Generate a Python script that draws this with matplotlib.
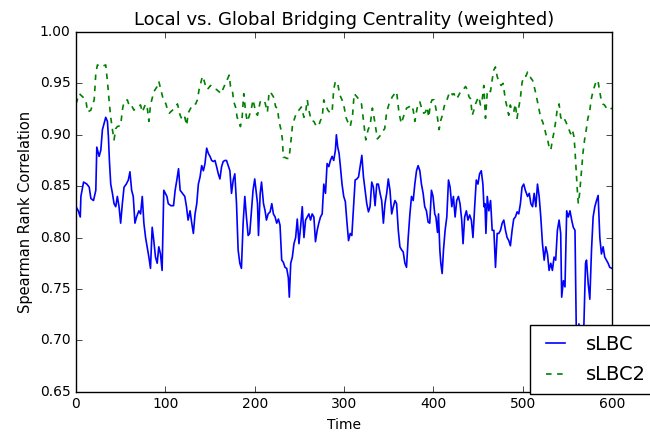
import matplotlib
matplotlib.use("Agg")
import matplotlib.pyplot as plt

# ---- data ----
blue_t = [0, 2.6, 4.8, 5.5, 8.5, 12.2, 14.8, 16.7, 19.6, 22.2, 23.3, 25.9, 27.8, 29.6, 31.5, 33.3, 35.2,
          36.3, 37.4, 38.9, 40.8, 42.6, 44.5, 46.3, 48.2, 50.0, 51.9, 53.8, 56.3, 58.6, 60.4, 62.3, 64.1,
          66.0, 67.8, 70.4, 72.3, 74.2, 76.0, 77.9, 79.7, 81.6, 83.4, 85.3, 87.1, 89.0, 90.9, 92.7, 94.6,
          96.4, 98.3, 100.0, 101.8, 103.3, 106.2, 109.2, 111.0, 112.9, 114.8, 116.6, 119.2, 121.8, 123.7,
          125.5, 127.7, 129.6, 131.4, 133.3, 135.2, 137.0, 138.9, 140.7, 142.6, 144.4, 146.3, 148.1, 150.0,
          151.9, 153.7, 155.6, 157.4, 159.3, 161.1, 163.0, 164.8, 166.7, 168.5, 170.4, 172.3, 174.1, 176.0,
          177.8, 179.7, 181.5, 183.4, 185.2, 187.1, 189.0, 190.8, 192.7, 194.5, 196.4, 198.2, 200.1, 201.5,
          203.2, 204.3, 206.2, 207.7, 209.9, 211.7, 213.2, 215.1, 217.3, 219.2, 221.0, 222.9, 224.7, 226.6,
          228.4, 230.3, 232.1, 234.0, 235.9, 237.7, 238.8, 240.4, 242.2, 244.0, 245.9, 247.7, 249.6, 251.4,
          253.3, 255.2, 257.0, 258.9, 260.7, 262.6, 264.4, 266.3, 268.1, 270.0, 271.8, 273.7, 275.6, 277.4,
          279.3, 281.1, 283.0, 284.8, 286.7, 288.5, 290.4, 291.5, 293.0, 294.5, 296.0, 297.8, 299.7, 301.5,
          303.4, 305.1, 307.0, 308.8, 310.7, 312.5, 314.4, 316.3, 318.1, 320.0, 321.8, 323.7, 325.5, 327.4,
          329.2, 331.1, 332.9, 334.8, 336.7, 338.5, 340.4, 342.2, 344.1, 345.9, 347.8, 349.6, 351.5, 353.4,
          355.2, 357.1, 358.9, 360.8, 362.6, 364.5, 366.3, 368.2, 370.0, 371.9, 373.8, 375.6, 377.5, 379.3,
          381.2, 383.0, 384.9, 386.7, 388.6, 390.4, 392.3, 394.2, 396.0, 397.9, 399.7, 401.6, 402.9, 404.7,
          405.8, 407.3, 408.4, 409.9, 411.4, 413.2, 415.1, 417.0, 418.8, 420.7, 422.5, 424.4, 426.2, 428.1,
          429.9, 431.8, 433.3, 435.1, 437.0, 438.8, 440.7, 442.6, 444.4, 446.3, 448.1, 450.0, 451.8, 453.7,
          455.5, 456.7, 457.8, 458.9, 460.4, 462.2, 464.1, 465.9, 467.8, 469.6, 471.5, 473.3, 475.2, 477.1,
          478.9, 480.8, 482.6, 484.5, 486.3, 488.2, 490.0, 491.9, 493.8, 495.6, 497.5, 499.3, 501.2, 503.0,
          505.5, 507.4, 509.2, 511.1, 512.9, 514.8, 516.6, 518.5, 520.3, 522.2, 524.1, 525.9, 527.8, 529.6,
          531.5, 533.3, 535.2, 537.0, 538.9, 540.8, 542.6, 543.7, 545.6, 547.4, 549.3, 551.1, 553.0, 554.9,
          556.7, 558.6, 560.0, 561.1, 563.0, 564.8, 566.7, 568.5, 570.4, 571.5, 573.4, 575.2, 577.1, 578.9,
          580.8, 582.7, 584.5, 586.4, 588.2, 590.1, 591.9, 593.8, 595.7, 597.5, 600.0]
sLBC = [0.830, 0.826, 0.820, 0.840, 0.854, 0.852, 0.849, 0.838, 0.836, 0.846, 0.888, 0.879, 0.885, 0.905,
        0.911, 0.917, 0.913, 0.898, 0.875, 0.852, 0.843, 0.833, 0.830, 0.840, 0.830, 0.814, 0.833, 0.849,
        0.852, 0.856, 0.864, 0.846, 0.840, 0.814, 0.820, 0.826, 0.823, 0.840, 0.814, 0.800, 0.791, 0.781,
        0.770, 0.810, 0.797, 0.781, 0.775, 0.791, 0.784, 0.768, 0.846, 0.843, 0.840, 0.833, 0.831, 0.831,
        0.846, 0.856, 0.867, 0.846, 0.843, 0.840, 0.830, 0.817, 0.826, 0.814, 0.804, 0.823, 0.833, 0.852,
        0.859, 0.870, 0.865, 0.872, 0.887, 0.882, 0.879, 0.875, 0.874, 0.875, 0.869, 0.862, 0.857, 0.869,
        0.874, 0.875, 0.875, 0.870, 0.865, 0.843, 0.856, 0.862, 0.833, 0.788, 0.775, 0.770, 0.814, 0.840,
        0.820, 0.802, 0.804, 0.826, 0.846, 0.857, 0.846, 0.833, 0.802, 0.843, 0.854, 0.833, 0.826, 0.817,
        0.823, 0.825, 0.833, 0.823, 0.820, 0.814, 0.818, 0.812, 0.778, 0.776, 0.771, 0.770, 0.761, 0.742,
        0.775, 0.781, 0.794, 0.800, 0.818, 0.794, 0.810, 0.830, 0.800, 0.817, 0.820, 0.823, 0.817, 0.823,
        0.820, 0.796, 0.807, 0.814, 0.820, 0.823, 0.852, 0.843, 0.872, 0.869, 0.875, 0.879, 0.875, 0.885,
        0.900, 0.888, 0.882, 0.869, 0.852, 0.840, 0.835, 0.814, 0.797, 0.804, 0.802, 0.830, 0.856, 0.857,
        0.859, 0.869, 0.880, 0.859, 0.846, 0.833, 0.825, 0.830, 0.854, 0.849, 0.831, 0.852, 0.852, 0.843,
        0.836, 0.814, 0.833, 0.843, 0.857, 0.846, 0.823, 0.830, 0.836, 0.833, 0.807, 0.791, 0.788, 0.786,
        0.775, 0.771, 0.800, 0.823, 0.840, 0.836, 0.852, 0.865, 0.870, 0.865, 0.852, 0.843, 0.830, 0.826,
        0.815, 0.814, 0.846, 0.840, 0.823, 0.820, 0.805, 0.823, 0.788, 0.775, 0.765, 0.788, 0.807, 0.820,
        0.856, 0.849, 0.830, 0.840, 0.820, 0.836, 0.840, 0.833, 0.817, 0.794, 0.820, 0.826, 0.817, 0.822,
        0.817, 0.800, 0.830, 0.856, 0.852, 0.862, 0.865, 0.852, 0.830, 0.833, 0.804, 0.840, 0.826, 0.836,
        0.807, 0.807, 0.771, 0.804, 0.804, 0.807, 0.814, 0.817, 0.807, 0.800, 0.797, 0.792, 0.807, 0.818,
        0.820, 0.825, 0.823, 0.833, 0.849, 0.852, 0.846, 0.840, 0.843, 0.833, 0.830, 0.843, 0.830, 0.852,
        0.840, 0.820, 0.794, 0.778, 0.791, 0.784, 0.768, 0.775, 0.768, 0.781, 0.778, 0.807, 0.817, 0.804,
        0.742, 0.758, 0.752, 0.826, 0.820, 0.826, 0.817, 0.810, 0.807, 0.713, 0.703, 0.716, 0.703, 0.713,
        0.713, 0.775, 0.778, 0.755, 0.740, 0.788, 0.820, 0.830, 0.836, 0.841, 0.800, 0.784, 0.791, 0.781,
        0.778, 0.775, 0.771, 0.770]

green_t = [0, 3.7, 7.4, 11.0, 13.0, 16.6, 20.4, 22.2, 24.0, 27.8, 33.3, 35.2, 37.0, 38.9, 40.8, 42.6, 44.5,
           46.3, 50.0, 51.9, 53.7, 57.5, 59.3, 61.2, 64.9, 68.6, 72.3, 74.2, 77.9, 79.7, 81.6, 83.4, 87.2,
           90.9, 92.7, 95.3, 97.5, 100.7, 102.5, 104.4, 108.1, 109.9, 113.6, 116.6, 119.2, 121.8, 124.0,
           125.5, 128.5, 131.4, 134.0, 135.9, 137.8, 139.6, 141.5, 143.3, 145.2, 147.0, 150.7, 154.4, 157.4,
           160.0, 162.6, 164.8, 167.4, 170.0, 171.5, 173.0, 174.9, 176.7, 178.6, 180.4, 182.3, 184.1, 186.0,
           187.8, 189.7, 191.6, 193.4, 196.0, 198.2, 201.4, 203.2, 206.2, 208.8, 211.4, 214.3, 216.2, 218.8,
           221.0, 223.6, 225.5, 227.3, 229.2, 231.0, 232.1, 234.0, 235.9, 238.5, 240.3, 242.2, 244.0, 247.0,
           249.6, 252.2, 255.2, 257.4, 258.9, 260.7, 263.3, 266.3, 269.2, 271.8, 273.7, 275.6, 277.4, 279.3,
           281.9, 284.8, 286.7, 288.5, 290.4, 293.0, 295.2, 297.8, 300.4, 302.2, 304.0, 307.0, 309.6, 311.4,
           314.4, 317.0, 319.6, 321.8, 324.4, 327.0, 329.2, 331.8, 334.4, 337.4, 340.4, 343.0, 345.6, 347.8,
           350.4, 354.1, 356.7, 358.9, 361.5, 364.1, 367.1, 370.1, 372.6, 375.2, 377.5, 379.3, 381.9, 384.9,
           387.5, 389.3, 391.2, 393.1, 394.9, 396.8, 398.6, 400.9, 402.8, 404.6, 406.5, 408.3, 410.2, 412.0,
           413.9, 415.7, 417.6, 419.5, 421.3, 423.2, 425.0, 427.6, 430.6, 433.5, 436.1, 438.0, 439.9, 441.7,
           443.6, 445.4, 447.3, 449.1, 451.0, 452.8, 454.7, 456.5, 458.4, 460.3, 462.1, 464.0, 465.8, 467.7,
           469.5, 471.4, 473.2, 475.8, 478.1, 480.7, 482.5, 484.4, 486.2, 488.1, 490.0, 491.8, 493.7, 495.5,
           497.4, 499.2, 501.1, 503.7, 505.5, 507.4, 509.2, 511.1, 512.9, 514.8, 516.6, 518.5, 520.4, 522.2,
           524.1, 525.9, 527.8, 529.6, 531.5, 533.3, 535.2, 537.0, 538.9, 540.8, 542.6, 544.5, 546.3, 548.2,
           550.0, 551.9, 553.7, 555.6, 557.5, 558.6, 559.7, 561.2, 562.3, 563.8, 565.6, 567.5, 569.3, 571.2,
           573.0, 574.9, 576.7, 578.6, 580.5, 582.3, 584.2, 586.0, 587.9, 589.7, 591.6, 593.8, 596.4, 600.0]
sLBC2 = [0.930, 0.940, 0.937, 0.934, 0.922, 0.924, 0.934, 0.960, 0.968, 0.966, 0.968, 0.952, 0.934, 0.917,
         0.905, 0.895, 0.906, 0.908, 0.909, 0.924, 0.932, 0.934, 0.929, 0.930, 0.924, 0.927, 0.929, 0.922,
         0.930, 0.927, 0.913, 0.929, 0.942, 0.947, 0.952, 0.943, 0.935, 0.930, 0.924, 0.921, 0.924, 0.926,
         0.930, 0.919, 0.914, 0.917, 0.909, 0.921, 0.926, 0.930, 0.930, 0.934, 0.944, 0.950, 0.957, 0.953,
         0.947, 0.944, 0.948, 0.945, 0.944, 0.942, 0.940, 0.945, 0.950, 0.955, 0.958, 0.947, 0.944, 0.932,
         0.927, 0.917, 0.913, 0.908, 0.917, 0.940, 0.924, 0.913, 0.917, 0.924, 0.934, 0.921, 0.919, 0.932,
         0.934, 0.932, 0.922, 0.942, 0.940, 0.937, 0.927, 0.926, 0.913, 0.906, 0.896, 0.878, 0.878, 0.877,
         0.877, 0.891, 0.908, 0.914, 0.922, 0.924, 0.927, 0.917, 0.924, 0.934, 0.924, 0.914, 0.913, 0.908,
         0.909, 0.914, 0.917, 0.934, 0.929, 0.924, 0.921, 0.922, 0.944, 0.952, 0.950, 0.939, 0.934, 0.926,
         0.917, 0.913, 0.908, 0.919, 0.940, 0.937, 0.934, 0.930, 0.914, 0.895, 0.905, 0.909, 0.926, 0.913,
         0.896, 0.899, 0.903, 0.906, 0.922, 0.930, 0.937, 0.940, 0.942, 0.922, 0.911, 0.919, 0.926, 0.927,
         0.929, 0.924, 0.913, 0.926, 0.932, 0.924, 0.921, 0.922, 0.927, 0.917, 0.930, 0.934, 0.934, 0.926,
         0.917, 0.905, 0.914, 0.919, 0.927, 0.932, 0.935, 0.940, 0.942, 0.939, 0.940, 0.935, 0.937, 0.942,
         0.944, 0.947, 0.944, 0.937, 0.935, 0.919, 0.924, 0.930, 0.934, 0.937, 0.929, 0.934, 0.948, 0.916,
         0.940, 0.944, 0.942, 0.953, 0.963, 0.966, 0.957, 0.952, 0.948, 0.950, 0.934, 0.927, 0.919, 0.929,
         0.924, 0.922, 0.930, 0.916, 0.926, 0.935, 0.950, 0.957, 0.957, 0.961, 0.960, 0.955, 0.953, 0.947,
         0.940, 0.932, 0.924, 0.916, 0.913, 0.908, 0.901, 0.896, 0.888, 0.885, 0.895, 0.903, 0.913, 0.926,
         0.930, 0.917, 0.914, 0.916, 0.913, 0.909, 0.905, 0.901, 0.905, 0.898, 0.885, 0.869, 0.846, 0.833,
         0.843, 0.862, 0.882, 0.895, 0.905, 0.916, 0.922, 0.934, 0.942, 0.947, 0.952, 0.953, 0.944, 0.934,
         0.930, 0.929, 0.926, 0.924, 0.926]

title = "Local vs. Global Bridging Centrality (weighted)"
xlabel = "Time"
ylabel = "Spearman Rank Correlation"
series_labels = ["sLBC", "sLBC2"]

plt.style.use("classic")
plt.rcParams["font.family"] = ["DejaVu Sans"]

fig = plt.figure(figsize=(6.5, 4.36), dpi=100, facecolor="white")
ax = fig.add_axes([0.1169, 0.1016, 0.8246, 0.825])
ax.plot(blue_t, sLBC, color="b", lw=1.2, label=series_labels[0])
ax.plot(green_t, sLBC2, color="g", lw=1.2, ls="--", dashes=(4, 4), label=series_labels[1])
ax.set_xlim(0, 600)
ax.set_ylim(0.65, 1.00)
ax.set_xticks(range(0, 601, 100))
ax.set_yticks([0.65, 0.70, 0.75, 0.80, 0.85, 0.90, 0.95, 1.00])
ax.tick_params(labelsize=10)
ax.set_title(title, fontsize=13)
ax.set_xlabel(xlabel, fontsize=10)
ax.set_ylabel(ylabel, fontsize=10.5)
leg = ax.legend(loc="upper left", bbox_to_anchor=(530 / 650, (436 - 325) / 436),
                bbox_transform=fig.transFigure, borderaxespad=0, fontsize=14,
                handlelength=1.6, labelspacing=0.6, borderpad=0.5, frameon=True)
leg.get_frame().set_linewidth(1.0)
fig.savefig("out.png", dpi=100, facecolor="white")
